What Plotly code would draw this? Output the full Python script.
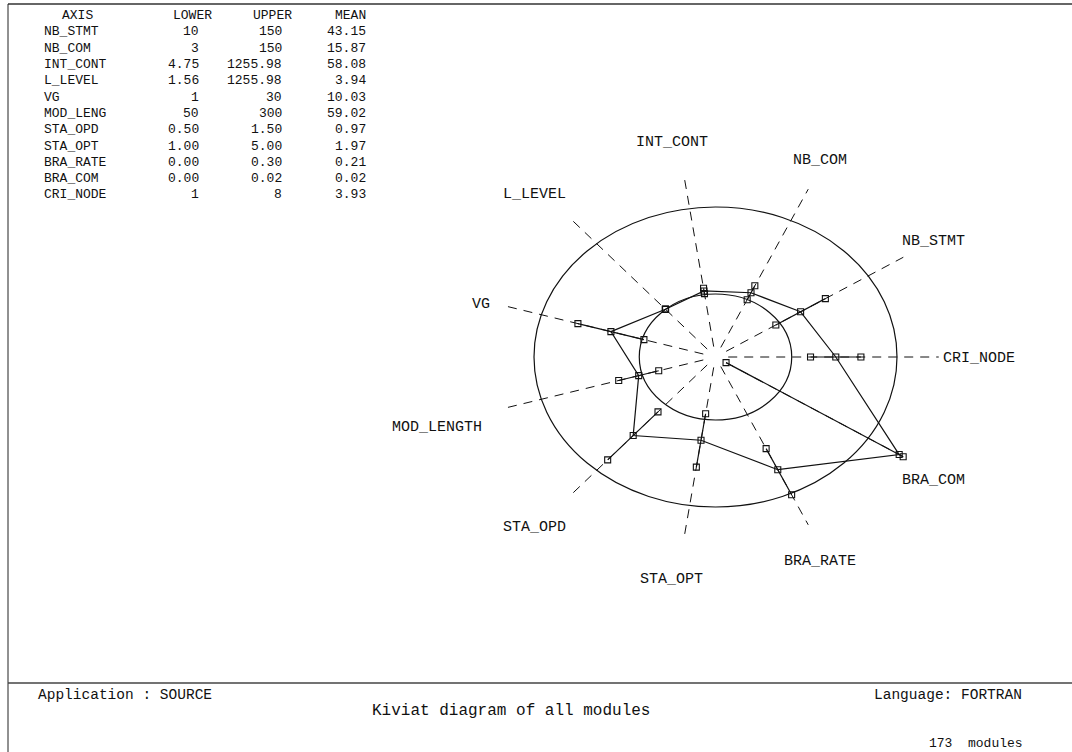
import math
import plotly.graph_objects as go

# ---------------- data ----------------
AXES = ["NB_STMT", "NB_COM", "INT_CONT", "L_LEVEL", "VG", "MOD_LENGTH",
        "STA_OPD", "STA_OPT", "BRA_RATE", "BRA_COM", "CRI_NODE"]
TABLE_NAMES = ["NB_STMT", "NB_COM", "INT_CONT", "L_LEVEL", "VG", "MOD_LENG",
               "STA_OPD", "STA_OPT", "BRA_RATE", "BRA_COM", "CRI_NODE"]
LOWER_TXT = ["10", "3", "4.75", "1.56", "1", "50", "0.50", "1.00", "0.00", "0.00", "1"]
UPPER_TXT = ["150", "150", "1255.98", "1255.98", "30", "300", "1.50", "5.00", "0.30", "0.02", "8"]
MEAN_TXT = ["43.15", "15.87", "58.08", "3.94", "10.03", "59.02", "0.97", "1.97", "0.21", "0.02", "3.93"]

LOWER = [10, 3, 4.75, 1.56, 1, 50, 0.50, 1.00, 0.00, 0.00, 1]
UPPER = [150, 150, 1255.98, 1255.98, 30, 300, 1.50, 5.00, 0.30, 0.02, 8]

# plotted values: mean - sd, mean, mean + sd
LOW_VAL = [4.0, 3.0, 19.0, 1.0, 0.55, 9.5, 0.61, 0.74, 0.13, -0.0121, 2.25]
MEAN_VAL = [43.15, 15.87, 58.08, 3.94, 10.03, 59.02, 0.97, 1.97, 0.21, 0.027, 3.93]
HIGH_VAL = [82.3, 28.8, 97.0, 6.9, 19.5, 108.5, 1.34, 3.22, 0.305, 0.0279, 5.6]

APPLICATION = "SOURCE"
LANGUAGE = "FORTRAN"
N_MODULES = 173

# ---------------- geometry ----------------
R_IN = 0.42      # ring for LOWER bound
R_OUT = 1.0      # ring for UPPER bound
R_AX0, R_AX1 = 0.07, 1.23
N = len(AXES)
ANG = [math.radians((i + 1) * 360.0 / N) for i in range(N)]


def radius(i, v):
    frac = (v - LOWER[i]) / (UPPER[i] - LOWER[i])
    r = R_IN + frac * (R_OUT - R_IN)
    return max(0.0, min(r, R_AX1))


def xy(i, r):
    return r * math.cos(ANG[i]), r * math.sin(ANG[i])


W, H = 1072, 752
CX, CY, UX, UY = 715.5, 357.0, 181.5, 150.0
XR = [-CX / UX, (W - CX) / UX]
YR = [-(H - CY) / UY, CY / UY]
INK = "#111"
LW = 1.2

fig = go.Figure()

# dashed axes
ax_x, ax_y = [], []
for i in range(N):
    x0, y0 = xy(i, R_AX0)
    x1, y1 = xy(i, R_AX1)
    ax_x += [x0, x1, None]
    ax_y += [y0, y1, None]
fig.add_trace(go.Scatter(x=ax_x, y=ax_y, mode="lines",
                         line=dict(color=INK, width=1, dash="9px,7px"),
                         hoverinfo="skip", showlegend=False))

# bound rings
for rr in (R_IN, R_OUT):
    fig.add_shape(type="circle", xref="x", yref="y", x0=-rr, x1=rr, y0=-rr, y1=rr,
                  line=dict(color=INK, width=LW))

# along-axis spread lines (mean - sd .. mean + sd)
sx, sy = [], []
for i in range(N):
    a = xy(i, radius(i, LOW_VAL[i]))
    b = xy(i, radius(i, HIGH_VAL[i]))
    sx += [a[0], b[0], None]
    sy += [a[1], b[1], None]
fig.add_trace(go.Scatter(x=sx, y=sy, mode="lines", line=dict(color=INK, width=LW),
                         hoverinfo="skip", showlegend=False))

# mean polygon
px_, py_ = [], []
for i in list(range(N)) + [0]:
    p = xy(i, radius(i, MEAN_VAL[i]))
    px_.append(p[0])
    py_.append(p[1])
fig.add_trace(go.Scatter(x=px_, y=py_, mode="lines", line=dict(color=INK, width=LW),
                         name="mean", showlegend=False))

# markers
for series in (LOW_VAL, MEAN_VAL, HIGH_VAL):
    mx, my = [], []
    for i in range(N):
        p = xy(i, radius(i, series[i]))
        mx.append(p[0])
        my.append(p[1])
    fig.add_trace(go.Scatter(x=mx, y=my, mode="markers",
                             marker=dict(symbol="square-open", size=6, color=INK,
                                         line=dict(width=1.1, color=INK)),
                             showlegend=False))

# axis labels
MONO = "Liberation Mono, Courier New, monospace"
LABEL_R = {"VG": 1.33, "MOD_LENGTH": 1.58}
for i, name in enumerate(AXES):
    if name == "CRI_NODE":
        x, y = xy(i, 1.24)
        fig.add_annotation(x=x, y=y, xref="x", yref="y", text=name, showarrow=False,
                           xanchor="left", yanchor="middle", yshift=-1,
                           font=dict(family=MONO, size=15, color=INK))
    else:
        x, y = xy(i, LABEL_R.get(name, 1.47))
        fig.add_annotation(x=x, y=y, xref="x", yref="y", text=name, showarrow=False,
                           xanchor="center", yanchor="middle",
                           xshift=-3 if name in LABEL_R else -6, yshift=-4,
                           font=dict(family=MONO, size=15, color=INK))


# table
def ptxt(px, py, text, anchor="left", size=13):
    fig.add_annotation(x=px / W, y=1 - py / H, xref="paper", yref="paper", text=text,
                       showarrow=False, xanchor=anchor, yanchor="middle",
                       font=dict(family=MONO, size=size, color=INK))


ROW0, DROW = 15.7, 16.3
ptxt(60, ROW0, "AXIS")
ptxt(214, ROW0, "LOWER", "right")
ptxt(294, ROW0, "UPPER", "right")
ptxt(368, ROW0, "MEAN", "right")
for k in range(N):
    yy = ROW0 + DROW * (k + 1)
    ptxt(42, yy, TABLE_NAMES[k])
    ptxt(201, yy, LOWER_TXT[k], "right")
    ptxt(284, yy, UPPER_TXT[k], "right")
    ptxt(368, yy, MEAN_TXT[k], "right")

# footer
ptxt(36, 695, "Application : " + APPLICATION, "left", 14.5)
ptxt(1024, 695, "Language: " + LANGUAGE, "right", 14.5)
ptxt(370, 711, "Kiviat diagram of all modules", "left", 16)
ptxt(1025, 743, f"{N_MODULES}  modules", "right", 13)

# frame
def pline(x0, y0, x1, y1, color, width):
    fig.add_shape(type="line", xref="paper", yref="paper",
                  x0=x0 / W, y0=1 - y0 / H, x1=x1 / W, y1=1 - y1 / H,
                  line=dict(color=color, width=width))


pline(8, 4, W, 4, "#666", 2)
pline(8, 4, 8, H, "#222", 1)
pline(8, 683, W, 683, "#444", 1.5)

fig.update_layout(
    width=W, height=H,
    margin=dict(l=0, r=0, t=0, b=0),
    paper_bgcolor="white", plot_bgcolor="white",
    xaxis=dict(range=XR, visible=False, fixedrange=True),
    yaxis=dict(range=YR, visible=False, fixedrange=True),
    showlegend=False,
)

fig.write_html("out.html", config={"displayModeBar": False},
               post_script="document.body.style.margin='0';document.body.style.overflow='hidden';")
